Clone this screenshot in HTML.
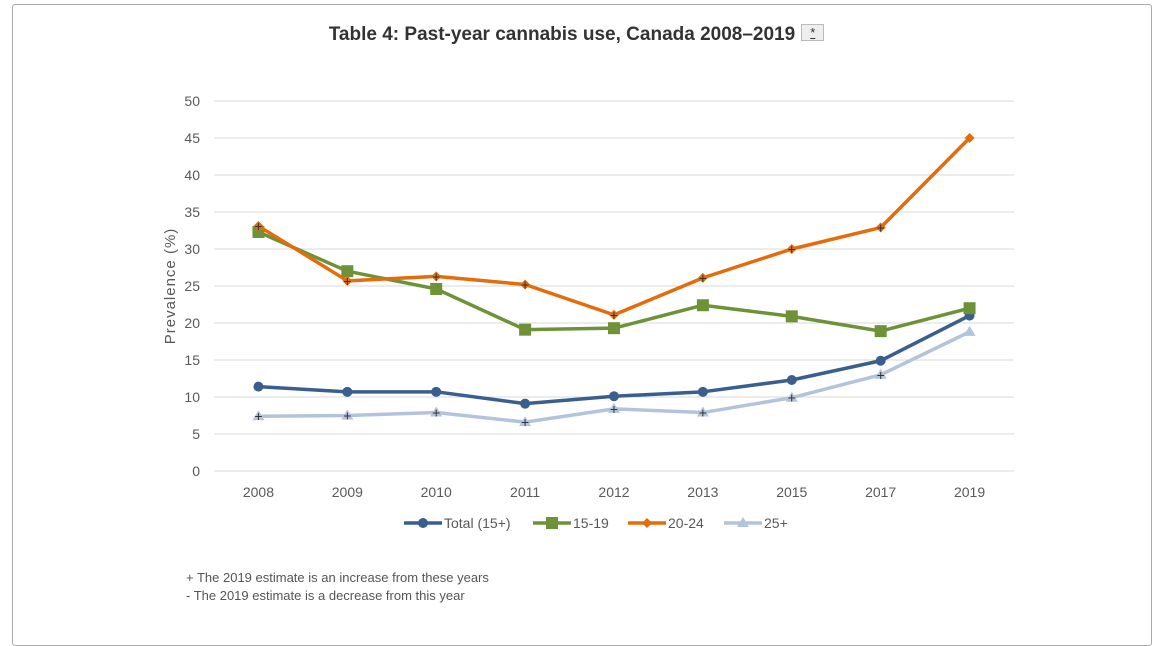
<!DOCTYPE html>
<html><head><meta charset="utf-8"><style>
body{margin:0;width:1153px;height:616px;background:#fff;overflow:hidden;font-family:"Liberation Sans",sans-serif}
#frame{position:absolute;left:12px;top:4px;width:1138px;height:640px;border:1px solid #aaa;border-radius:3px}
#title{position:absolute;left:0;width:1153px;top:24px;text-align:center;font-weight:bold;font-size:19px;color:#333}
#star{display:inline-block;border:1px solid #bbb;background:#eee;font-size:13px;font-weight:normal;padding:0 8px;margin-left:6px;text-decoration:underline;vertical-align:3px}
</style></head><body>
<div id="frame"></div>
<div id="title">Table 4: Past-year cannabis use, Canada 2008–2019<span id="star">*</span></div>
<svg id="chart" width="1153" height="616" style="position:absolute;left:0;top:0"></svg>
<script>
const categories=["2008","2009","2010","2011","2012","2013","2015","2017","2019"];
const yTicks=[0,5,10,15,20,25,30,35,40,45,50];
const total=[11.4,10.7,10.7,9.1,10.1,10.7,12.3,14.9,21.0];
const age1519=[32.3,27.0,24.6,19.1,19.3,22.4,20.9,18.9,22.0];
const age2024=[33.1,25.7,26.3,25.2,21.1,26.1,30.0,32.9,45.0];
const age25p=[7.4,7.5,7.9,6.6,8.4,7.9,9.9,13.0,18.8];
const seriesNames=["Total (15+)","15-19","20-24","25+"];
const NS="http://www.w3.org/2000/svg";
const svg=document.getElementById('chart');
const x0=214,x1=1014,yBase=471,yTop=101;
const xs=i=>x0+(x1-x0)/categories.length*(i+0.5);
const ys=v=>yBase-(yBase-yTop)*v/50;
function mk(t,a,p){const e=document.createElementNS(NS,t);for(const k in a)e.setAttribute(k,a[k]);(p||svg).appendChild(e);return e;}
yTicks.forEach(t=>{
 const l=mk('line',{x1:x0,x2:x1,y1:ys(t),y2:ys(t),stroke:'#d9d9d9','stroke-width':1});
 
 
 const tx=mk('text',{x:200,y:ys(t)+5,'text-anchor':'end','font-size':14,fill:'#595959'});tx.textContent=t;
 
 
});
categories.forEach((c,i)=>{
 const tx=mk('text',{x:xs(i),y:497,'text-anchor':'middle','font-size':14,fill:'#595959'});tx.textContent=c;
 
 
});
const yt=mk('text',{x:0,y:0,transform:'translate(175,286) rotate(-90)','text-anchor':'middle','font-size':15,fill:'#595959','letter-spacing':'1'});yt.textContent='Prevalence (%)';


function marker(type,x,y,col,g){
 if(type==='circle')mk('circle',{cx:x,cy:y,r:5,fill:col},g);
 else if(type==='square')mk('rect',{x:x-6,y:y-6,width:12,height:12,fill:col},g);
 else if(type==='diamond')mk('polygon',{points:`${x},${y-5} ${x+5},${y} ${x},${y+5} ${x-5},${y}`,fill:col},g);
 else if(type==='tri')mk('polygon',{points:`${x},${y-6} ${x+6},${y+4} ${x-6},${y+4}`,fill:col},g);
}
const defs=[[total,'#3a5f8f','circle',false],[age1519,'#6e9238','square',false],[age2024,'#e46c0a','diamond',true],[age25p,'#b4c3dc','tri',true]];
const order=[3,0,1,2];
order.forEach(si=>{
 const [d,col,m,plus]=defs[si];
 const g=mk('g',{});
 
 
 mk('polyline',{points:d.map((v,i)=>xs(i)+','+ys(v)).join(' '),fill:'none',stroke:col,'stroke-width':3.5,'stroke-linejoin':'round'},g);
 d.forEach((v,i)=>{marker(m,xs(i),ys(v),col,g);
  if(plus&&i<8){const p=mk('text',{x:xs(i),y:ys(v)+5,'text-anchor':'middle','font-size':14,fill:'#333'},g);p.textContent='+';}});
});
let lx=404;
defs.forEach(([d,col,m],si)=>{
 const g=mk('g',{});
 
 
 mk('line',{x1:lx,x2:lx+38,y1:523,y2:523,stroke:col,'stroke-width':3.5},g);
 marker(m,lx+19,523,col,g);
 const t=mk('text',{x:lx+40,y:528,'font-size':14,fill:'#595959'},g);t.textContent=seriesNames[si];
 lx+=[129,95,96,0][si];
});
</script>
<div style="position:absolute;left:186px;top:569px;font-size:13px;color:#555;line-height:18px">+ The 2019 estimate is an increase from these years<br>- The 2019 estimate is a decrease from this year</div>
</body></html>
